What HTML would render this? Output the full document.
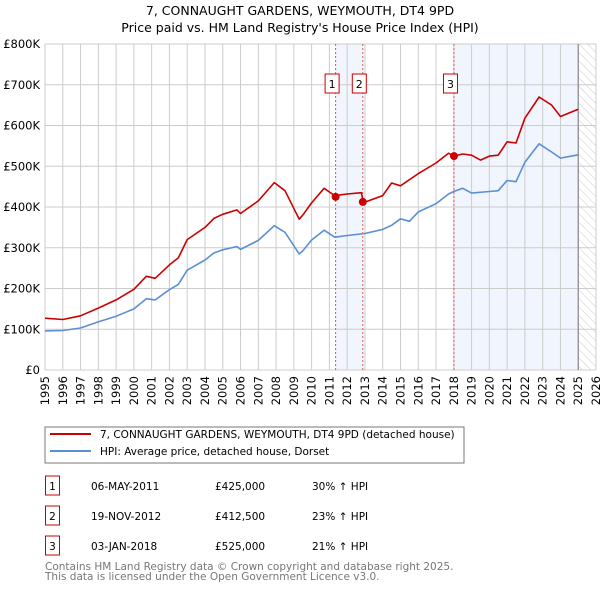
<!DOCTYPE html>
<html><head><meta charset="utf-8"><style>
body{margin:0;background:#fff;font-family:"DejaVu Sans","Liberation Sans",sans-serif;}
svg text{font-family:"DejaVu Sans","Liberation Sans",sans-serif;}
</style></head><body>
<svg id="c" width="600" height="590" viewBox="0 0 600 590" xmlns="http://www.w3.org/2000/svg">
<defs><pattern id="hatch" width="6" height="6" patternUnits="userSpaceOnUse" patternTransform="rotate(-45)"><line x1="0" y1="0" x2="0" y2="6" stroke="#ccc" stroke-width="1"/></pattern></defs>
<text x="300" y="15" text-anchor="middle" font-size="12.5">7, CONNAUGHT GARDENS, WEYMOUTH, DT4 9PD</text>
<text x="300" y="32" text-anchor="middle" font-size="12.5">Price paid vs. HM Land Registry's House Price Index (HPI)</text>
<g id="plot"></g>
<rect x="45" y="427" width="419" height="36" fill="#fff" stroke="#777"/>
<line x1="50" y1="434" x2="91" y2="434" stroke="#cc0000" stroke-width="2"/>
<text x="100" y="438" font-size="10.5">7, CONNAUGHT GARDENS, WEYMOUTH, DT4 9PD (detached house)</text>
<line x1="50" y1="451" x2="91" y2="451" stroke="#5b8fd4" stroke-width="2"/>
<text x="100" y="455" font-size="10.5">HPI: Average price, detached house, Dorset</text>
<g id="tbl" font-size="10.5"></g>
<text x="45" y="570" font-size="10.5" fill="#777">Contains HM Land Registry data © Crown copyright and database right 2025.</text>
<text x="45" y="580" font-size="10.5" fill="#777">This data is licensed under the Open Government Licence v3.0.</text>
</svg>
<script>
const hpiYears=[1995,1996,1997,1998,1999,2000,2000.7,2001.2,2002,2002.5,2003,2004,2004.5,2005,2005.8,2006,2007,2007.9,2008.5,2009.3,2009.5,2010,2010.7,2011.3,2012,2013,2014,2014.5,2015,2015.5,2016,2017,2017.7,2018,2018.5,2019,2020,2020.5,2021,2021.5,2022,2022.8,2023.5,2024,2025];
const hpiValues=[96,97,103,118,132,150,175,172,197,210,245,270,287,295,303,296,318,354,338,285,292,319,343,326,330,335,345,355,371,365,388,408,432,438,446,434,438,440,465,462,510,555,535,520,528];
const propYears=[1995,1996,1997,1998,1999,2000,2000.7,2001.2,2002,2002.5,2003,2004,2004.5,2005,2005.8,2006,2007,2007.9,2008.5,2009.3,2009.5,2010,2010.7,2011.3,2012,2012.8,2012.9,2013,2014,2014.5,2015,2016,2017,2017.7,2018,2018.5,2019,2019.5,2020,2020.5,2021,2021.5,2022,2022.8,2023.5,2024,2025];
const propValues=[127,124,133,152,172,198,230,225,258,275,320,350,372,382,393,384,415,460,440,370,380,410,446,428,432,435,412,412,428,459,452,482,508,532,525,530,527,515,525,527,560,557,618,670,650,622,640];
const saleLabels=["1","2","3"];
const saleYears=[2011.35,2012.88,2018.01];
const saleValues=[425,412.5,525];
const saleDates=["06-MAY-2011","19-NOV-2012","03-JAN-2018"];
const salePrices=["£425,000","£412,500","£525,000"];
const saleDiffs=["30% ↑ HPI","23% ↑ HPI","21% ↑ HPI"];
const yTicks=[0,100,200,300,400,500,600,700,800];
const yTickLabels=["£0","£100K","£200K","£300K","£400K","£500K","£600K","£700K","£800K"];
const xTicks=[];for(let y=1995;y<=2026;y++)xTicks.push(y);

const X0=45,X1=596,Y0=370,Y1=44;
const xs=v=>X0+(v-1995)/(2026-1995)*(X1-X0);
const ys=v=>Y0-v/800*(Y0-Y1);
const NS="http://www.w3.org/2000/svg";
const g=document.getElementById('plot');
function mk(tag,attrs,parent){const e=document.createElementNS(NS,tag);for(const k in attrs)e.setAttribute(k,attrs[k]);(parent||g).appendChild(e);return e;}

let r=mk('rect',{x:xs(saleYears[0]),y:Y1,width:xs(saleYears[1])-xs(saleYears[0]),height:Y0-Y1,fill:'#eef3fd',opacity:0.8});


r=mk('rect',{x:xs(saleYears[2]),y:Y1,width:xs(2025)-xs(saleYears[2]),height:Y0-Y1,fill:'#eef3fd',opacity:0.8});


r=mk('rect',{x:xs(2025),y:Y1,width:X1-xs(2025),height:Y0-Y1,fill:'url(#hatch)'});



yTicks.forEach((v,i)=>{
 const l=mk('line',{x1:X0,x2:X1,y1:ys(v),y2:ys(v),stroke:'#ccc'});
 
 
 const t=mk('text',{x:40,y:ys(v)+4,'text-anchor':'end','font-size':'11.5'});
 t.textContent=yTickLabels[i];
 
 
});
xTicks.forEach(v=>{
 const l=mk('line',{x1:xs(v),x2:xs(v),y1:Y1,y2:Y0,stroke:'#ccc'});
 
 
 const t=mk('text',{x:0,y:0,'font-size':'11.5','text-anchor':'end',transform:`translate(${xs(v)+4},${Y0+6}) rotate(-90)`});
 t.textContent=v;
 
 
});
let vl=mk('line',{x1:xs(2025),x2:xs(2025),y1:Y1,y2:Y0,stroke:'#888','stroke-width':1.2});



saleYears.forEach((v,i)=>{
 const l=mk('line',{x1:xs(v),x2:xs(v),y1:Y1,y2:Y0,stroke:'#e05555','stroke-dasharray':'2,2'});
 
 
});

function path(xa,ya,color,name){
 const d=xa.map((x,i)=>(i?'L':'M')+xs(x).toFixed(1)+','+ys(ya[i]).toFixed(1)).join('');
 const p=mk('path',{d:d,fill:'none',stroke:color,'stroke-width':1.6,'stroke-linejoin':'round'});
 
 
}
path(hpiYears,hpiValues,'#5b8fd4','hpi-line');
path(propYears,propValues,'#cc0000','property-price-line');

saleYears.forEach((v,i)=>{
 const c=mk('circle',{cx:xs(v),cy:ys(saleValues[i]),r:4,fill:'#cc0000'});
 
 
 const bx=xs(v)-10.5;
 const b=mk('rect',{x:bx,y:74,width:14,height:19,fill:'#fff',stroke:'#cc0000'});
 
 
 const t=mk('text',{x:bx+7,y:88,'text-anchor':'middle','font-size':'11'});
 t.textContent=saleLabels[i];
 
 
});

const tb=document.getElementById('tbl');
saleLabels.forEach((s,i)=>{
 const y=476+i*30;
 const b=mk('rect',{x:45.5,y:y,width:14,height:19,fill:'#fff',stroke:'#cc0000'},tb);
 
 
 const cells=[[52.5,s,'middle'],[91,saleDates[i],'start'],[215,salePrices[i],'start'],[312,saleDiffs[i],'start']];
 cells.forEach(c=>{
  const t=mk('text',{x:c[0],y:y+14,'text-anchor':c[2]},tb);
  t.textContent=c[1];
  
  
 });
});
</script>
</body></html>
